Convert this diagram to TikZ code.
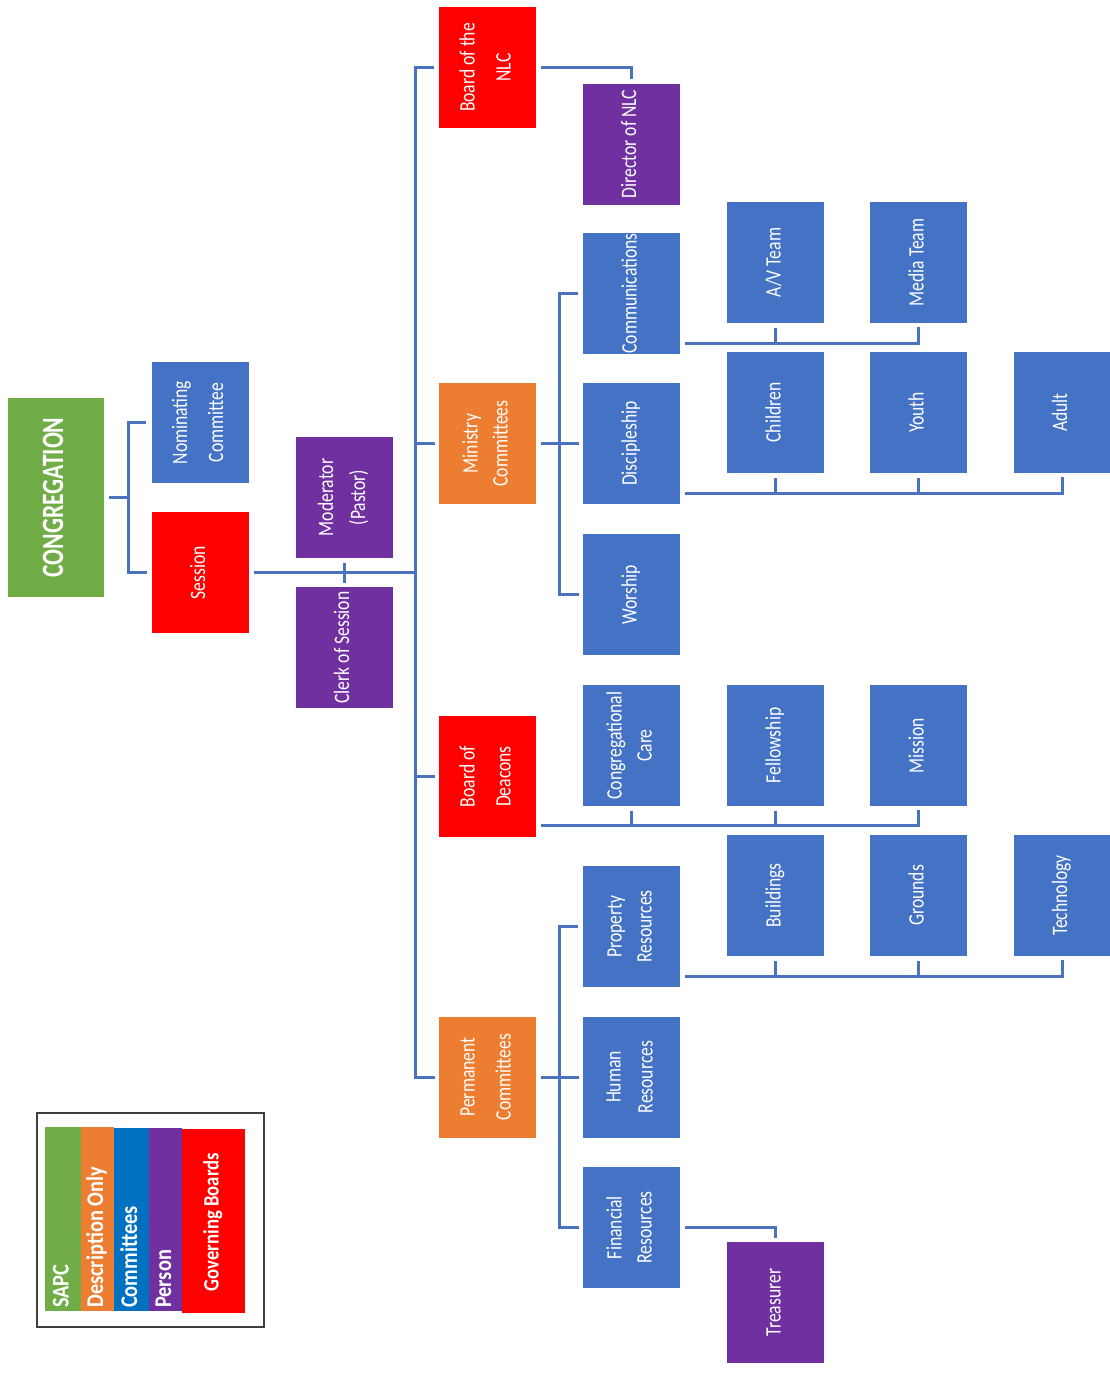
\documentclass[tikz,border=0pt]{standalone}
\usepackage{fontspec}
\setmainfont{Carlito}
\usetikzlibrary{calc}
\definecolor{cblue}{HTML}{4472C4}
\definecolor{corange}{HTML}{ED7D31}
\definecolor{cgreen}{HTML}{70AD47}
\definecolor{cred}{HTML}{FF0000}
\definecolor{cpurple}{HTML}{7030A0}
\definecolor{lblue}{HTML}{0070C0}
\definecolor{lineblue}{HTML}{4A72BE}
\newcommand{\rt}[2][0.8]{\rotatebox{90}{\scalebox{#1}[1]{\begin{tabular}{@{}c@{}}#2\end{tabular}}}}
\begin{document}
\begin{tikzpicture}[x=1pt,y=-1pt,
  box/.style={rectangle, minimum width=97pt, minimum height=121pt, inner sep=0pt, text=white, font=\fontsize{22}{26}\selectfont},
  bluebox/.style={box, fill=cblue},
  redbox/.style={box, fill=cred},
  orangebox/.style={box, fill=corange},
  purplebox/.style={box, fill=cpurple},
  conn/.style={draw=lineblue, line width=3pt},
  gs/.style={shorten <=5pt},
  ge/.style={shorten >=4pt},
  legtext/.style={inner sep=0pt, text=white, font=\fontsize{24}{28}\selectfont\bfseries}]
\useasboundingbox (0,0) rectangle (1110,1374);

% level 0/1
\node[box, fill=cgreen, minimum width=96pt, minimum height=199pt, font=\fontsize{31}{36}\selectfont\bfseries] (cong) at (56,497.5) {\rt[0.76]{CONGREGATION}};
\node[bluebox] (nom) at (200,422.5) {\rt{Nominating\\[10pt]Committee}};
\node[redbox] (sess) at (200,572.5) {\rt{Session}};
\node[purplebox] (mod) at (344,497.5) {\rt{Moderator\\[6pt](Pastor)}};
\node[purplebox] (clerk) at (344,647.5) {\rt{Clerk of Session}};

% level 2
\node[redbox] (nlc) at (487.5,67.5) {\rt{Board of the\\[10pt]NLC}};
\node[purplebox] (dir) at (631,144) {\rt{Director of NLC}};
\node[orangebox] (min) at (487.5,443.5) {\rt{Ministry\\[4pt]Committees}};
\node[redbox] (deac) at (487.5,776.5) {\rt{Board of\\[10pt]Deacons}};
\node[orangebox] (perm) at (487.5,1077) {\rt{Permanent\\[10pt]Committees}};

% level 3
\node[bluebox] (comm) at (631.5,293.5) {\rt{Communications}};
\node[bluebox] (disc) at (631.5,443.5) {\rt{Discipleship}};
\node[bluebox] (wor) at (631.5,594.5) {\rt{Worship}};
\node[bluebox] (cc) at (631.5,745.5) {\rt{Congregational\\[4pt]Care}};
\node[bluebox] (prop) at (631.5,926.5) {\rt{Property\\[4pt]Resources}};
\node[bluebox] (hr) at (631.5,1077) {\rt{Human\\[6pt]Resources}};
\node[bluebox] (fin) at (631.5,1227.5) {\rt{Financial\\[4pt]Resources}};

% level 4
\node[bluebox] (av) at (775.5,262.5) {\rt{A/V Team}};
\node[bluebox] (media) at (918.5,262.5) {\rt{Media Team}};
\node[bluebox] (child) at (775.5,412.5) {\rt{Children}};
\node[bluebox] (youth) at (918.5,412.5) {\rt{Youth}};
\node[bluebox] (adult) at (1062,412.5) {\rt{Adult}};
\node[bluebox] (fell) at (775.5,745.5) {\rt{Fellowship}};
\node[bluebox] (miss) at (918.5,745.5) {\rt{Mission}};
\node[bluebox] (build) at (775.5,895.5) {\rt{Buildings}};
\node[bluebox] (ground) at (918.5,895.5) {\rt{Grounds}};
\node[bluebox] (tech) at (1062,895.5) {\rt{Technology}};
\node[purplebox] (treas) at (775.5,1302.5) {\rt{Treasurer}};

% bus coordinates
\coordinate (cb) at (128,0);
\coordinate (tk) at (415,0);
\coordinate (mb) at (559,0);
\coordinate (cs) at ($(comm.south east)+(0,-11)$);
\coordinate (ds) at ($(disc.south east)+(0,-11)$);
\coordinate (dcs) at ($(deac.south east)+(0,-12)$);
\coordinate (ps) at ($(prop.south east)+(0,-11)$);

% connectors
\draw[conn,gs] (cong.east) -- (cong.east -| cb);
\draw[conn,gs,ge] (nom.west) -- (nom.west -| cb) -- (sess.west -| cb) -- (sess.west);
\draw[conn,gs] (sess.east) -- (sess.east -| tk);
\draw[conn,gs,ge] (mod.south) -- (clerk.north);
\draw[conn,gs,ge] (nlc.west) -- (nlc.west -| tk) -- (perm.west -| tk) -- (perm.west);
\draw[conn,ge] (min.west -| tk) -- (min.west);
\draw[conn,ge] (deac.west -| tk) -- (deac.west);
\draw[conn,gs,ge] (nlc.east) -| (dir.north);

\draw[conn,gs,ge] (min.east) -- (disc.west);
\draw[conn,gs,ge] (comm.west) -- (comm.west -| mb) -- (wor.west -| mb) -- (wor.west);
\draw[conn,gs,ge] (cs) -| (media.south);
\draw[conn,gs] (av.south) -- (av.south |- cs);
\draw[conn,gs,ge] (ds) -| (adult.south);
\draw[conn,gs] (child.south) -- (child.south |- ds);
\draw[conn,gs] (youth.south) -- (youth.south |- ds);

\draw[conn,gs,ge] (dcs) -| (miss.south);
\draw[conn,gs] (cc.south) -- (cc.south |- dcs);
\draw[conn,gs] (fell.south) -- (fell.south |- dcs);

\draw[conn,gs,ge] (perm.east) -- (hr.west);
\draw[conn,gs,ge] (prop.west) -- (prop.west -| mb) -- (fin.west -| mb) -- (fin.west);
\draw[conn,gs,ge] (ps) -| (tech.south);
\draw[conn,gs] (build.south) -- (build.south |- ps);
\draw[conn,gs] (ground.south) -- (ground.south |- ps);
\draw[conn,gs,ge] (fin.east) -| (treas.north);

% legend
\node[draw=black!75, line width=2pt, minimum width=227pt, minimum height=214pt, inner sep=0pt] (legend) at (150.5,1220) {};
\fill[cgreen] (45,1127) rectangle (81,1311);
\fill[corange] (81,1127) rectangle (114,1311);
\fill[lblue] (114,1128) rectangle (149,1311);
\fill[cpurple] (149,1128) rectangle (182,1311);
\fill[cred] (182,1129) rectangle (245,1313);
\node[legtext, anchor=south] (lsapc) at (63,1308) {\rt[0.85]{SAPC}};
\node[legtext, anchor=south] (ldesc) at (97.5,1308) {\rt[0.85]{Description Only}};
\node[legtext, anchor=south] (lcomm) at (131.5,1308) {\rt[0.85]{Committees}};
\node[legtext, anchor=south] (lpers) at (165.5,1308) {\rt[0.85]{Person}};
\node[legtext, font=\fontsize{22}{26}\selectfont\bfseries] (lgov) at (213.5,1222) {\rt[0.85]{Governing Boards}};
\end{tikzpicture}
\end{document}
